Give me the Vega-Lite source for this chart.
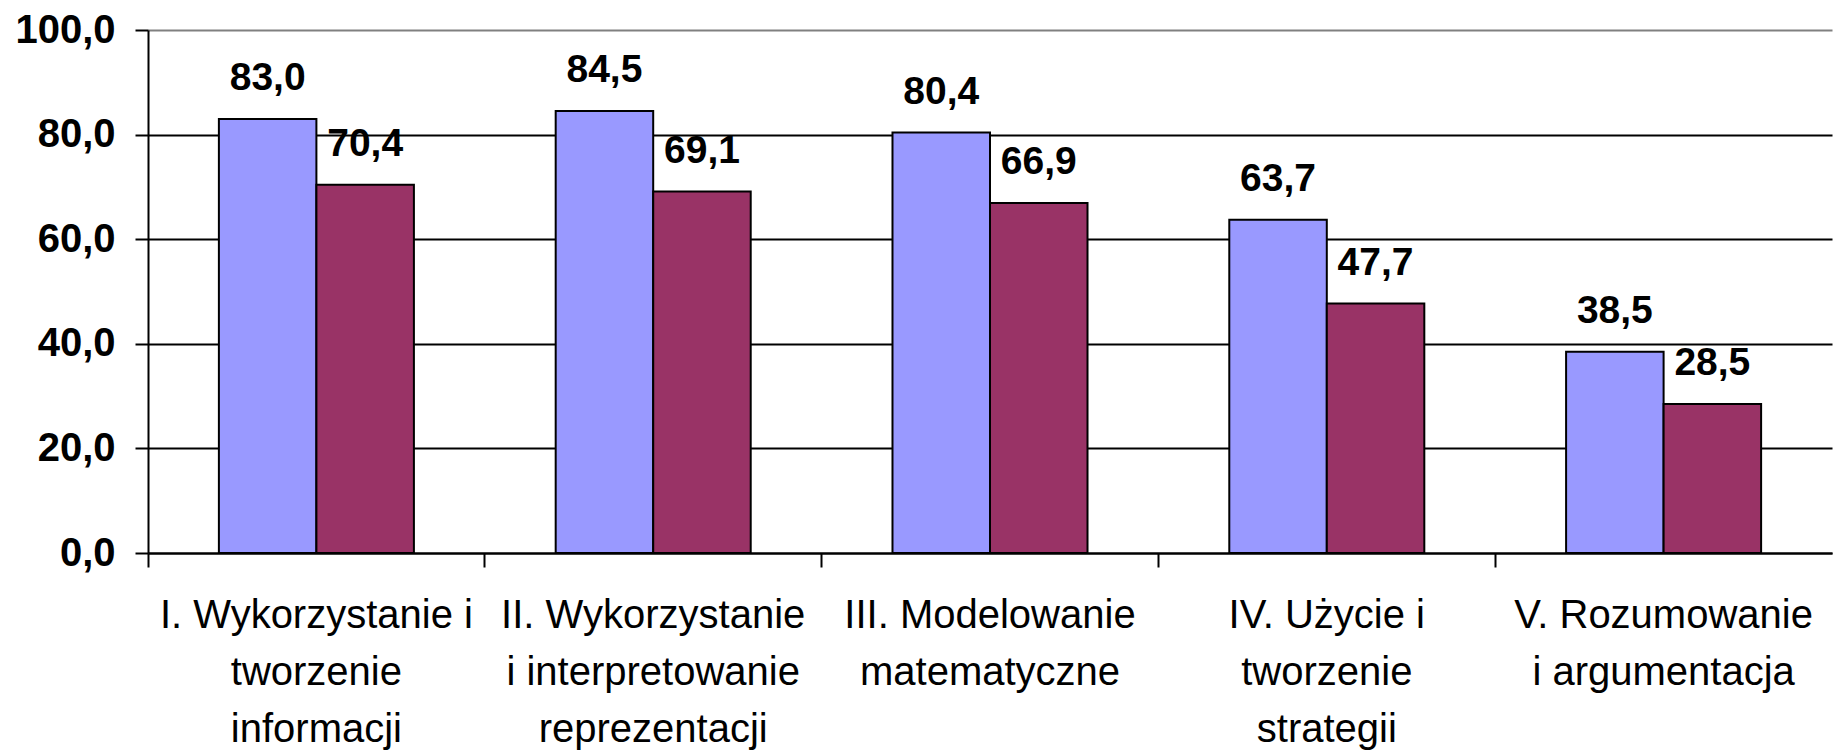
{
  "$schema": "https://vega.github.io/schema/vega-lite/v6.json",
  "autosize": {"type": "none"},
  "width": 1684,
  "height": 523,
  "padding": {"left": 148, "top": 30, "right": 1, "bottom": 203},
  "background": "white",
  "config": {
    "locale": {"number": {"decimal": ",", "thousands": " ", "grouping": [3], "currency": ["", " zł"]}},
    "view": {"stroke": null},
    "font": "Liberation Sans"
  },
  "data": {
    "values": [
      {"kat": "I. Wykorzystanie i|tworzenie|informacji", "seria": "A", "wynik": 83.0},
      {"kat": "I. Wykorzystanie i|tworzenie|informacji", "seria": "B", "wynik": 70.4},
      {"kat": "II. Wykorzystanie|i interpretowanie|reprezentacji", "seria": "A", "wynik": 84.5},
      {"kat": "II. Wykorzystanie|i interpretowanie|reprezentacji", "seria": "B", "wynik": 69.1},
      {"kat": "III. Modelowanie|matematyczne", "seria": "A", "wynik": 80.4},
      {"kat": "III. Modelowanie|matematyczne", "seria": "B", "wynik": 66.9},
      {"kat": "IV. Użycie i|tworzenie|strategii", "seria": "A", "wynik": 63.7},
      {"kat": "IV. Użycie i|tworzenie|strategii", "seria": "B", "wynik": 47.7},
      {"kat": "V. Rozumowanie|i argumentacja", "seria": "A", "wynik": 38.5},
      {"kat": "V. Rozumowanie|i argumentacja", "seria": "B", "wynik": 28.5}
    ]
  },
  "encoding": {
    "x": {
      "field": "kat", "type": "nominal", "sort": null,
      "scale": {"paddingInner": 0, "paddingOuter": 0},
      "axis": {
        "title": null, "labelAngle": 0, "bandPosition": 0,
        "labelExpr": "split(datum.label, '|')",
        "labelFont": "Liberation Sans", "labelFontSize": 40, "labelFontWeight": "normal",
        "labelColor": "black", "labelLineHeight": 57, "labelPadding": 28, "labelLimit": 0,
        "labelOverlap": false, "labelBound": false, "labelFlush": false,
        "domainColor": "black", "domainWidth": 2,
        "tickColor": "black", "tickWidth": 2, "tickSize": 14,
        "grid": false
      }
    },
    "xOffset": {"field": "seria", "type": "nominal", "scale": {"paddingOuter": 0.727, "paddingInner": 0}},
    "y": {
      "field": "wynik", "type": "quantitative",
      "scale": {"domain": [0, 100], "nice": false},
      "axis": {
        "title": null, "values": [0, 20, 40, 60, 80, 100], "format": ".1f",
        "labelFont": "Liberation Sans", "labelFontSize": 40, "labelFontWeight": "bold",
        "labelColor": "black", "labelPadding": 20,
        "domainColor": "black", "domainWidth": 2,
        "tickColor": "black", "tickWidth": 2, "tickSize": 13,
        "grid": true, "gridWidth": 2,
        "gridColor": {"condition": {"test": "datum.value == 100", "value": "#808080"}, "value": "black"}
      }
    }
  },
  "layer": [
    {
      "mark": {"type": "bar", "stroke": "black", "strokeWidth": 2},
      "encoding": {
        "color": {
          "field": "seria", "type": "nominal",
          "scale": {"domain": ["A", "B"], "range": ["#9999FF", "#993366"]},
          "legend": null
        }
      }
    },
    {
      "mark": {"type": "text", "font": "Liberation Sans", "fontSize": 39, "fontWeight": "bold", "color": "black", "baseline": "alphabetic", "align": "center", "dy": -29},
      "encoding": {
        "text": {"field": "wynik", "type": "quantitative", "format": ".1f"}
      }
    }
  ]
}
